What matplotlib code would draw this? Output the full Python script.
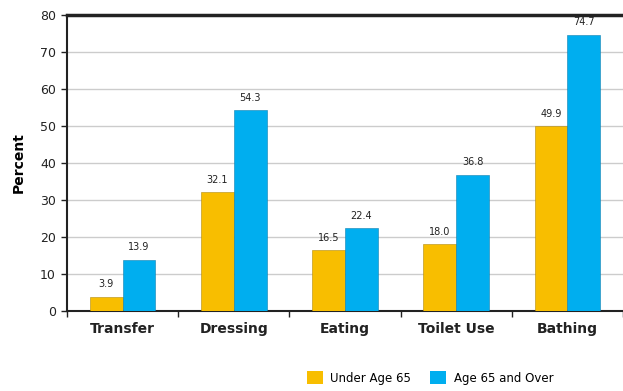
import numpy as np
import matplotlib.pyplot as plt
from matplotlib.patches import Patch

categories = ['Transfer', 'Dressing', 'Eating', 'Toilet Use', 'Bathing']
under_65 = [3.9, 32.1, 16.5, 18.0, 49.9]
over_65 = [13.9, 54.3, 22.4, 36.8, 74.7]
series_names = ['Under Age 65', 'Age 65 and Over']
yticks = [0, 10, 20, 30, 40, 50, 60, 70, 80]

plt.rcParams['font.family'] = ['DejaVu Sans']

yellow = '#F8BE00'
blue = '#00AEEF'

fig = plt.figure(figsize=(6.23, 3.91), dpi=100)
ax = fig.add_axes([0.1075, 0.2046, 0.8925, 0.757])

x = np.arange(len(categories))
w = 0.295
b1 = ax.bar(x - w / 2, under_65, w, color=yellow, edgecolor='#b08a10', linewidth=0.4, zorder=3)
b2 = ax.bar(x + w / 2, over_65, w, color=blue, edgecolor='#1080b0', linewidth=0.4, zorder=3)

for bars, vals in [(b1, under_65), (b2, over_65)]:
    for r, v in zip(bars, vals):
        ax.text(r.get_x() + r.get_width() / 2, v + 2, f'{v:.1f}', ha='center', va='bottom',
                fontsize=7, color='#222222')

ax.set_xlim(-0.5, len(categories) - 0.5)
ax.set_ylim(0, 80)
ax.set_yticks(yticks)
ax.tick_params(axis='y', labelsize=9, length=4, width=1, colors='#222222', pad=4)
ax.yaxis.grid(True, color='#cccccc', linewidth=1, zorder=0)

# category labels, ticks at group boundaries
ax.set_xticks(x)
ax.set_xticklabels(categories, fontsize=10, fontweight='bold', color='#222222')
ax.tick_params(axis='x', length=0, pad=8)
ax.set_xticks(np.arange(len(categories) + 1) - 0.5, minor=True)
ax.tick_params(axis='x', which='minor', length=4, width=1, color='#222222')

for s in ['left', 'bottom']:
    ax.spines[s].set_linewidth(1.5)
    ax.spines[s].set_color('#222222')
ax.spines['top'].set_linewidth(2.5)
ax.spines['top'].set_color('#222222')
ax.spines['right'].set_visible(False)

ax.set_ylabel('Percent', fontsize=10, fontweight='bold', labelpad=10)

handles = [Patch(facecolor=yellow), Patch(facecolor=blue)]
fig.legend(handles, series_names, loc='center', bbox_to_anchor=(0.69, 0.033), ncol=2,
           frameon=False, fontsize=8.5, handlelength=1.4, handleheight=1.3, columnspacing=1.6,
           handletextpad=0.6)

fig.savefig('out.png', dpi=100)
